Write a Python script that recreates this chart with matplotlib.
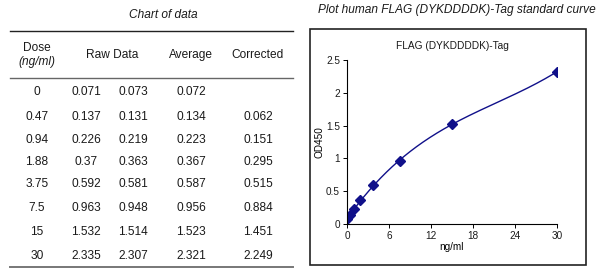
"""FLAG (DYKDDDDK)-Tag ELISA standard table and curve."""

import matplotlib

matplotlib.use("Agg")
import matplotlib.pyplot as plt  # noqa: E402
import numpy as np  # noqa: E402
from matplotlib.lines import Line2D  # noqa: E402
from matplotlib.patches import Rectangle  # noqa: E402

plt.rcParams["font.family"] = ["Liberation Sans", "DejaVu Sans"]
plt.rcParams["text.color"] = "#1a1a1a"

dose_labels = ["0", "0.47", "0.94", "1.88", "3.75", "7.5", "15", "30"]
dose = [0, 0.47, 0.94, 1.88, 3.75, 7.5, 15, 30]
raw_1 = ["0.071", "0.137", "0.226", "0.37", "0.592", "0.963", "1.532", "2.335"]
raw_2 = ["0.073", "0.131", "0.219", "0.363", "0.581", "0.948", "1.514", "2.307"]
average = [0.072, 0.134, 0.223, 0.367, 0.587, 0.956, 1.523, 2.321]
corrected = ["", "0.062", "0.151", "0.295", "0.515", "0.884", "1.451", "2.249"]

W, H = 610, 275
fig = plt.figure(figsize=(W / 100, H / 100), dpi=100)


def px(x, y):
    return x / W, 1 - y / H


def put(x, y, s, **kw):
    kw.setdefault("ha", "center")
    kw.setdefault("va", "center")
    kw.setdefault("fontsize", 8.6)
    fig.text(*px(x, y), s, **kw)


def rule(y, color, lw):
    x0, y0 = px(10, y)
    x1, _ = px(293, y)
    fig.add_artist(Line2D([x0, x1], [y0, y0], color=color, lw=lw,
                          transform=fig.transFigure))


# table
put(163, 15, "Chart of data", style="italic")
rule(31, "#222222", 1.0)
put(37, 48, "Dose")
put(37, 62, "(ng/ml)", style="italic")
put(112, 55, "Raw Data")
put(191, 55, "Average")
put(258, 55, "Corrected")
rule(78, "#666666", 1.0)

row_y = [92, 117, 140, 162, 184, 208, 232, 256]
for i, y in enumerate(row_y):
    put(37, y, dose_labels[i])
    put(86, y, raw_1[i])
    put(133, y, raw_2[i])
    put(191, y, f"{average[i]:.3f}")
    put(258, y, corrected[i])
rule(267, "#777777", 1.4)

# curve panel
put(457, 10, "Plot human FLAG (DYKDDDDK)-Tag standard curve",
    style="italic", fontsize=8.6)
bx0, by1 = px(310, 265)
bx1, by0 = px(586, 29)
fig.add_artist(Rectangle((bx0, by1), bx1 - bx0, by0 - by1, fill=False,
                         edgecolor="#222222", lw=1.2, transform=fig.transFigure))

ax = fig.add_axes([347 / W, 1 - 224 / H, 210 / W, 164 / H])
ax.set_facecolor("none")
for side in ("top", "right"):
    ax.spines[side].set_visible(False)
for side in ("left", "bottom"):
    ax.spines[side].set_linewidth(0.8)

coef = np.polyfit(dose, average, 3)
xs = np.linspace(0, 30, 300)
ax.plot(xs, np.polyval(coef, xs), color="#10108a", lw=1.0)
ax.plot(dose, average, linestyle="none", marker="D", markersize=5,
        color="#10108a")

ax.set_xlim(0, 30)
ax.set_ylim(0, 2.5)
ax.set_xticks([0, 6, 12, 18, 24, 30])
ax.set_yticks([0, 0.5, 1, 1.5, 2, 2.5])
ax.set_yticklabels(["0", "0.5", "1", "1.5", "2", "2.5"])
ax.tick_params(labelsize=7.2, length=3, width=0.7, pad=2,
               labelcolor="#1a1a1a")
ax.set_xlabel("ng/ml", fontsize=7.2, labelpad=1)
ax.set_ylabel("OD450", fontsize=7.2, labelpad=1)
ax.set_title("FLAG (DYKDDDDK)-Tag", fontsize=7.3, pad=8)

fig.savefig("out.png", dpi=100)
plt.close(fig)
